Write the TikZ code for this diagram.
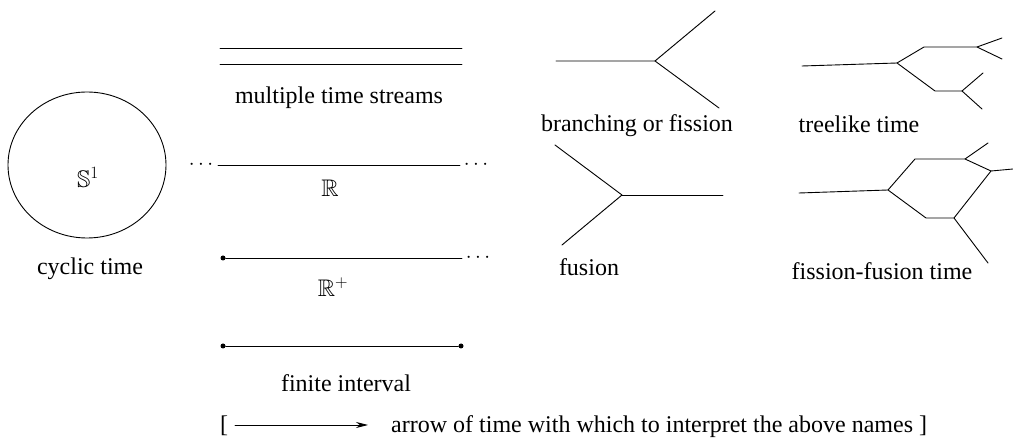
\documentclass[tikz,border=0pt]{standalone}
\usepackage{amssymb}
\usepackage{fontspec}
\setmainfont{Liberation Serif}
\usetikzlibrary{arrows.meta,shapes.geometric}
\begin{document}
\begin{tikzpicture}[x=1pt,y=-1pt,
  lbl/.style={font=\fontsize{24}{28}\selectfont, inner sep=0pt, anchor=base},
  ln/.style={line width=0.9pt, line cap=round, line join=round},
  endpt/.style={circle, fill, inner sep=0pt, minimum size=5pt},
  ell/.style={font=\fontsize{20}{22}\selectfont, inner sep=0pt}]
\useasboundingbox (0,0) rectangle (1013,438);

% cyclic time
\node (cyc) [draw, line width=0.9pt, ellipse, minimum width=158pt, minimum height=146pt, inner sep=0pt] at (87,165) {};
\node (s1) [lbl] at (88,188) {$\mathbb{S}^1$};
\node (cyclbl) [lbl] at (90,275) {cyclic time};

% multiple time streams
\coordinate (m1a) at (220,48); \coordinate (m1b) at (462,48);
\coordinate (m2a) at (220,64); \coordinate (m2b) at (462,64);
\draw[ln] (m1a) -- (m1b);
\draw[ln] (m2a) -- (m2b);
\node (mlbl) [lbl] at (339,104) {multiple time streams};

% R
\coordinate (ra) at (218,165); \coordinate (rb) at (460,165);
\draw[ln] (ra) -- (rb);
\node (rdl) [ell] at (201,165) {$\cdots$};
\node (rdr) [ell] at (476,165) {$\cdots$};
\node (rlbl) [lbl] at (330,197) {$\mathbb{R}$};

% R+
\node (rpa) [endpt] at (223,258) {};
\coordinate (rpb) at (462,258);
\draw[ln] (rpa) -- (rpb);
\node (rpd) [ell] at (478,258) {$\cdots$};
\node (rplbl) [lbl] at (333,297) {$\mathbb{R}^+$};

% finite interval
\node (fa) [endpt] at (223,346) {};
\node (fb) [endpt] at (461,346) {};
\draw[ln] (fa) -- (fb);
\node (flbl) [lbl] at (346,392) {finite interval};

% arrow of time
\node (lbr) [lbl] at (224,432) {[};
\coordinate (aa) at (235,425); \coordinate (ab) at (368,425);
\draw[ln, -{Stealth[length=12pt,width=6pt]}] (aa) -- (ab);
\node (atxt) [lbl, anchor=base west] at (391,432) {arrow of time with which to interpret the above names ]};

% branching or fission
\coordinate (b0) at (556,61); \coordinate (bj) at (655,61);
\coordinate (bu) at (715,11); \coordinate (bd) at (719,108);
\draw[ln] (b0) -- (bj) -- (bu);
\draw[ln] (bj) -- (bd);
\node (blbl) [lbl] at (637,132) {branching or fission};

% fusion
\coordinate (fu) at (555,145); \coordinate (fd) at (562,245);
\coordinate (fj) at (622,195); \coordinate (fr) at (723,195);
\draw[ln] (fu) -- (fj) -- (fd);
\draw[ln] (fj) -- (fr);
\node (fulbl) [lbl] at (589,276) {fusion};

% treelike time
\coordinate (t0) at (802,66); \coordinate (tj) at (897,63);
\coordinate (tu1) at (924,47); \coordinate (tu2) at (977,47);
\coordinate (tu3) at (1002,38); \coordinate (tu4) at (1002,59);
\coordinate (td1) at (935,91); \coordinate (td2) at (962,91);
\coordinate (td3) at (983,73); \coordinate (td4) at (982,109);
\draw[ln] (t0) -- (tj) -- (tu1) -- (tu2) -- (tu3);
\draw[ln] (tu2) -- (tu4);
\draw[ln] (tj) -- (td1) -- (td2) -- (td3);
\draw[ln] (td2) -- (td4);
\node (tlbl) [lbl] at (859,133) {treelike time};

% fission-fusion time
\coordinate (ff0) at (799,193); \coordinate (ffj) at (888,190);
\coordinate (ffu1) at (915,159); \coordinate (ffu2) at (965,159);
\coordinate (ffu3) at (988,143); \coordinate (ffm) at (991,171);
\coordinate (ffr) at (1013,169);
\coordinate (ffd1) at (926,218); \coordinate (ffd2) at (954,218);
\coordinate (ffd3) at (988,263);
\draw[ln] (ff0) -- (ffj) -- (ffu1) -- (ffu2) -- (ffu3);
\draw[ln] (ffu2) -- (ffm) -- (ffr);
\draw[ln] (ffj) -- (ffd1) -- (ffd2) -- (ffm);
\draw[ln] (ffd2) -- (ffd3);
\node (fflbl) [lbl] at (882,280) {fission-fusion time};
\end{tikzpicture}
\end{document}
